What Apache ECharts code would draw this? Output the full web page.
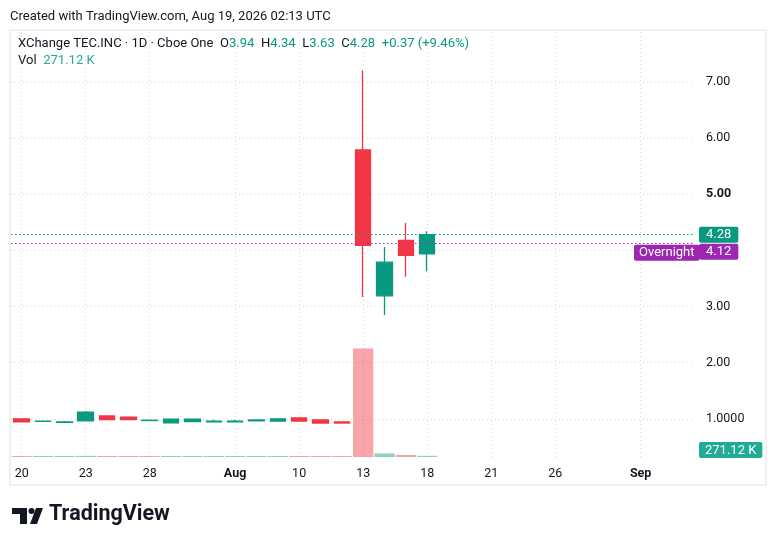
<!DOCTYPE html>
<html lang="en">
<head>
<meta charset="UTF-8">
<title>XChange TEC.INC · 1D · Cboe One</title>
<script src="https://cdn.jsdelivr.net/npm/echarts@6/dist/echarts.min.js"></script>
<style>
    html, body { margin: 0; padding: 0; background: #fff; }
    #chart { width: 776px; height: 546px; }
</style>
</head>
<body>
<div id="chart"></div>
<script>
    // trading days on the time scale (20 with data, the rest is empty space on the right)
    var dates = ['07-20','07-21','07-22','07-23','07-24','07-27','07-28','07-29','07-30','07-31',
                 '08-03','08-06','08-07','08-10','08-11','08-12','08-13','08-14','08-17','08-18',
                 '08-19','08-20','08-21','08-24','08-25','08-26','08-27','08-28','08-31','09-01',
                 '09-02','09-03'];

    var opens  = [1.00, 0.955, 0.935, 0.965, 1.05, 1.03, 0.970, 0.93, 0.95, 0.945, 0.945, 0.965, 0.96, 1.015, 0.98, 0.945, 5.79, 3.19, 4.18, 3.94];
    var highs  = [1.00, 0.960, 0.960, 1.140, 1.05, 1.03, 0.975, 1.00, 1.00, 0.985, 0.985, 0.980, 1.00, 1.015, 0.98, 0.945, 7.21, 4.06, 4.49, 4.34];
    var lows   = [0.94, 0.950, 0.930, 0.965, 0.985, 0.985, 0.970, 0.93, 0.95, 0.945, 0.945, 0.965, 0.96, 0.960, 0.925, 0.925, 3.17, 2.85, 3.53, 3.63];
    var closes = [0.945, 0.960, 0.945, 1.120, 0.985, 0.985, 0.975, 0.995, 0.995, 0.960, 0.960, 0.980, 0.997, 0.960, 0.925, 0.925, 4.09, 3.79, 3.91, 4.28];

    var volumes = [210000, 240000, 220000, 260000, 200000, 190000, 200000, 220000, 210000, 200000,
                   210000, 190000, 200000, 230000, 220000, 200000, 24500000, 820000, 450000, 271120];
    var volumeSide = [-1, 1, 1, 1, -1, -1, -1, 1, 1, 1, 1, 1, 1, -1, -1, -1, -1, 1, -1, 1];

    var priceTicks  = [1, 2, 3, 4, 5, 6, 7];
    var priceLabels = [1, 2, 3, 5, 6, 7];
    var timeTickIdx  = [0, 3, 6, 10, 13, 16, 19, 22, 25, 29];
    var timeTickText = ['20', '23', '28', 'Aug', '10', '13', '18', '21', '26', 'Sep'];

    var lastClose = 4.28;
    var overnight = 4.12;

    var UP = '#089981', DOWN = '#F23645', PURPLE = '#9C27B0';
    var FONT = 'Roboto, "Liberation Sans", sans-serif';
    var GRID = { color: '#D9D9D9', width: 1, type: [1, 3] };

    var chart = echarts.init(document.getElementById('chart'));

    var candleData = [];
    for (var i = 0; i < opens.length; i++) {
        candleData.push([opens[i], closes[i], lows[i], highs[i]]);
    }
    var volData = [];
    for (var j = 0; j < volumes.length; j++) {
        volData.push({
            value: volumes[j],
            itemStyle: { color: volumeSide[j] > 0 ? 'rgba(8,153,129,0.45)' : 'rgba(242,54,69,0.45)' }
        });
    }

    var option = {
        animation: false,
        backgroundColor: '#fff',
        textStyle: { fontFamily: FONT },
        grid: { left: 11, right: 82, top: 32, bottom: 89 },
        xAxis: [
            {
                type: 'category', data: dates, boundaryGap: true,
                axisLine: { show: false }, axisTick: { show: false },
                axisLabel: { show: false }, splitLine: { show: false }
            },
            {
                // helper axis: grid lines and labels at the middle of chosen bars
                type: 'value', min: -0.5, max: dates.length - 0.5, position: 'bottom',
                axisLine: { show: false },
                axisTick: { show: false, customValues: timeTickIdx },
                splitLine: { show: true, lineStyle: GRID },
                axisLabel: {
                    customValues: timeTickIdx, margin: 10,
                    color: '#131722', fontSize: 12.5, fontFamily: FONT,
                    formatter: function (v) {
                        var t = timeTickText[timeTickIdx.indexOf(Math.round(v))];
                        return (t === 'Aug' || t === 'Sep') ? '{b|' + t + '}' : t;
                    },
                    rich: { b: { fontWeight: 'bold', fontSize: 12.5, fontFamily: FONT, color: '#131722' } }
                }
            }
        ],
        yAxis: [
            {
                type: 'value', position: 'right', min: 0.32, max: 7.89, scale: true,
                axisLine: { show: false },
                axisTick: { show: false, customValues: priceTicks },
                splitLine: { show: true, lineStyle: GRID },
                axisLabel: {
                    customValues: priceLabels, margin: 12, align: 'left',
                    color: '#131722', fontSize: 12.5, fontFamily: FONT,
                    formatter: function (v) {
                        if (v === 1) return '1.0000';
                        if (v === 5) return '{b|5.00}';
                        return v.toFixed(2);
                    },
                    rich: { b: { fontWeight: 'bold', fontSize: 12.5, fontFamily: FONT, color: '#131722' } }
                }
            },
            {
                type: 'value', min: 0, max: 96000000, show: false,
                splitLine: { show: false }
            }
        ],
        series: [
            {
                name: 'Vol', type: 'bar', xAxisIndex: 0, yAxisIndex: 1,
                data: volData, barCategoryGap: '5%', barMinHeight: 1, z: 1
            },
            {
                name: 'XChange TEC.INC', type: 'candlestick', xAxisIndex: 0, yAxisIndex: 0,
                data: candleData, barWidth: 16, z: 3,
                itemStyle: { color: UP, color0: DOWN, borderColor: UP, borderColor0: DOWN, borderWidth: 1.3 },
                markLine: {
                    silent: true, symbol: ['none', 'none'], animation: false,
                    data: [
                        {
                            yAxis: lastClose,
                            lineStyle: { color: UP, width: 1.2, type: [1.5, 2.5] },
                            label: {
                                show: true, position: 'end', distance: 5, formatter: lastClose.toFixed(2),
                                color: '#fff', backgroundColor: UP, padding: [2, 7, 1, 7], borderRadius: 2,
                                fontSize: 13, fontFamily: FONT
                            }
                        },
                        {
                            yAxis: overnight,
                            lineStyle: { color: '#A62DC0', width: 1.2, type: [1.5, 2.5] },
                            label: {
                                show: true, position: 'end', distance: 5, offset: [0, 8], formatter: overnight.toFixed(2),
                                color: '#fff', backgroundColor: PURPLE, padding: [2, 7, 1, 7], borderRadius: 2,
                                fontSize: 13, fontFamily: FONT
                            }
                        }
                    ]
                }
            }
        ]
    };
    chart.setOption(option);

    // header, legend, badges and logo
    var yOver = chart.convertToPixel({ yAxisIndex: 0 }, overnight);
    chart.setOption({
        graphic: [
            {
                type: 'rect', silent: true, z: -1,
                shape: { x: 10, y: 30, width: 756, height: 455 },
                style: { fill: 'none', stroke: '#EBECEF', lineWidth: 1.5 }
            },
            {
                type: 'text', left: 10, top: 10,
                style: { text: 'Created with TradingView.com, Aug 19, 2026 02:13 UTC', fill: '#131722', font: '13px ' + FONT }
            },
            {
                type: 'text', left: 18, top: 37, z: 10,
                style: {
                    text: '{n|XChange TEC.INC · 1D · Cboe One}  {n|O}{g|3.94}  {n|H}{g|4.34}  {n|L}{g|3.63}  {n|C}{g|4.28}  {g|+0.37 (+9.46%)}',
                    rich: {
                        n: { fill: '#131722', font: '13px ' + FONT },
                        g: { fill: UP, font: '13px ' + FONT }
                    }
                }
            },
            {
                type: 'text', left: 18, top: 54, z: 10,
                style: {
                    text: '{n|Vol}  {g|271.12 K}',
                    rich: {
                        n: { fill: '#131722', font: '13px ' + FONT },
                        g: { fill: '#22AB94', font: '13px ' + FONT }
                    }
                }
            },
            {
                type: 'text', left: 634, top: yOver + 1, z: 10,
                style: {
                    text: 'Overnight', fill: '#fff', font: '13px ' + FONT,
                    backgroundColor: PURPLE, padding: [2, 5, 1, 5], borderRadius: 2
                }
            },
            {
                type: 'text', left: 699, top: 442, z: 10,
                style: {
                    text: '271.12 K', fill: '#fff', font: '13px ' + FONT,
                    backgroundColor: '#22AB94', padding: [2, 6, 1, 6], borderRadius: 2
                }
            },
            {
                type: 'group', left: 12, top: 508,
                children: [
                    { type: 'polygon', shape: { points: [[0, 0], [15, 0], [15, 16], [8, 16], [8, 6], [0, 6]] }, style: { fill: '#131722' } },
                    { type: 'circle', shape: { cx: 19.5, cy: 3, r: 3 }, style: { fill: '#131722' } },
                    { type: 'polygon', shape: { points: [[24, 0], [31, 0], [25, 16], [18, 16]] }, style: { fill: '#131722' } }
                ]
            },
            {
                type: 'text', left: 49, top: 504,
                style: { text: 'TradingView', fill: '#131722', font: 'bold 21.5px ' + FONT }
            }
        ]
    });
</script>
</body>
</html>
